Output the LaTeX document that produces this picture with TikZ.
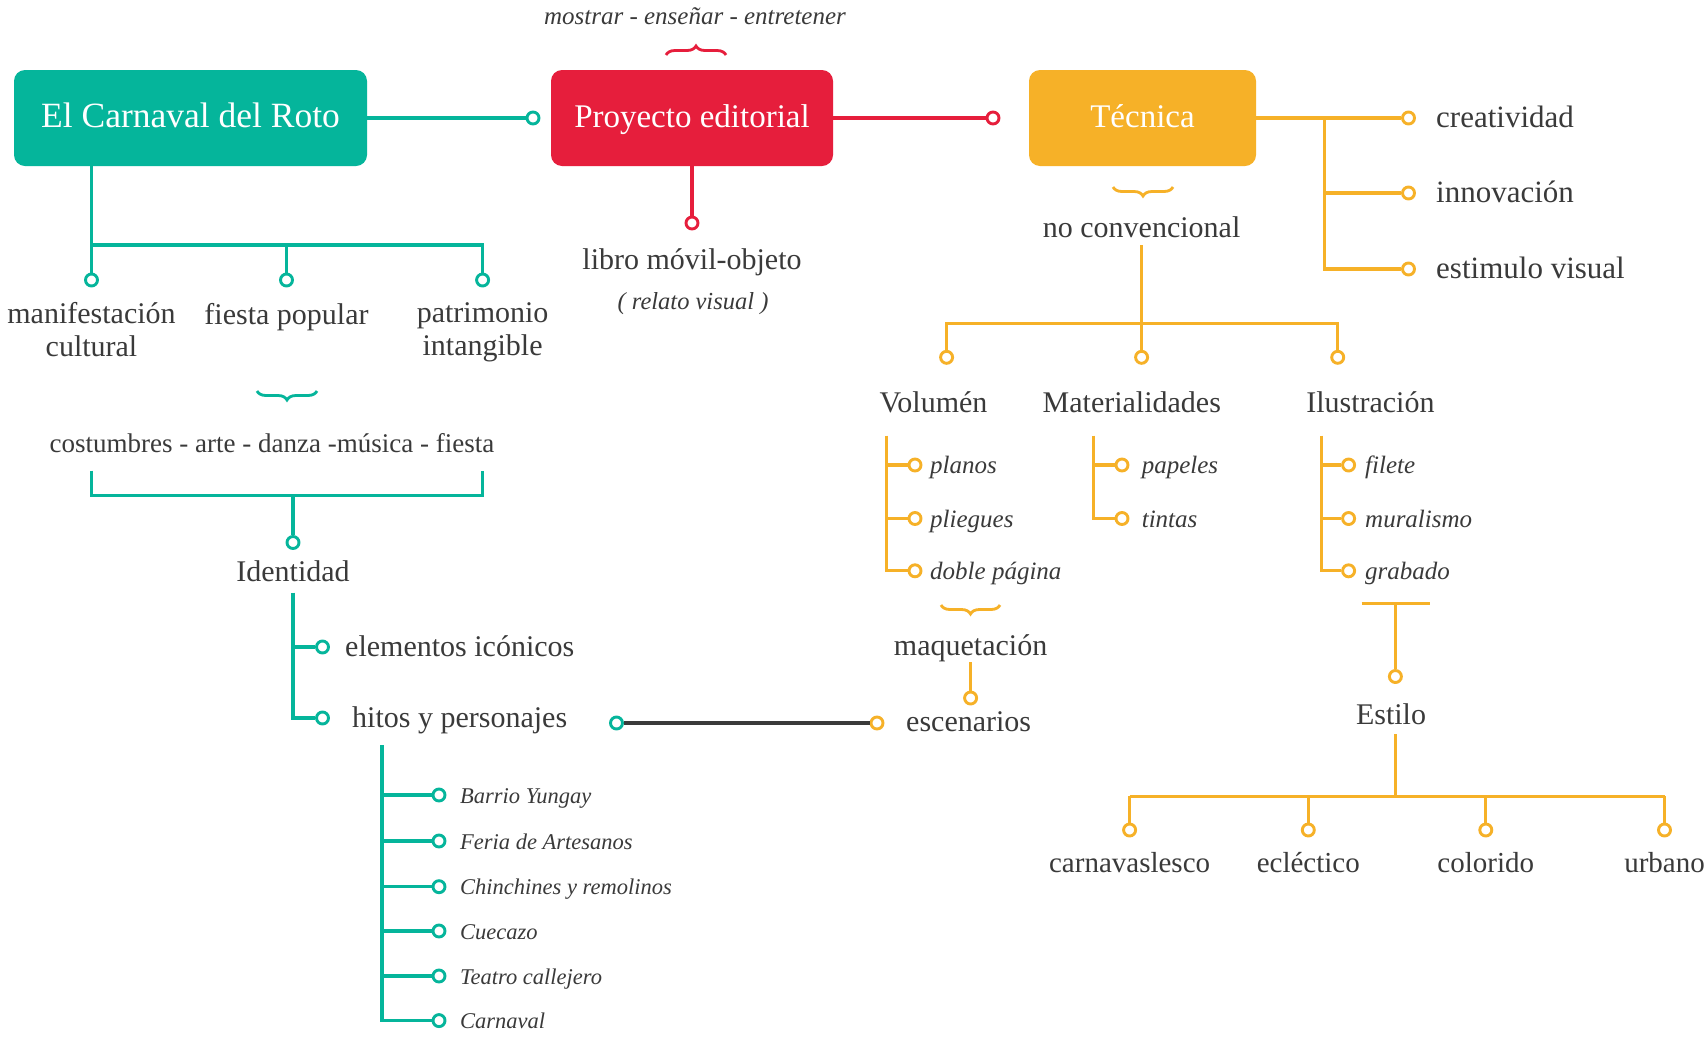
\documentclass[tikz,border=0pt]{standalone}
\usepackage{fontspec}
\setmainfont{Liberation Serif}
\usetikzlibrary{decorations.pathreplacing,calc}
\definecolor{cteal}{HTML}{05B59B}
\definecolor{cred}{HTML}{E61E3C}
\definecolor{cyel}{HTML}{F6B128}
\definecolor{cink}{HTML}{3A3A3A}
\begin{document}
\begin{tikzpicture}[x=1pt,y=-1pt,
  box/.style={rounded corners=11pt, minimum height=96pt, inner sep=0pt, text=white,
    font=\fontsize{33}{38}\selectfont, text height=22pt, text depth=2.6pt},
  lbl/.style={text=cink, inner sep=0pt, font=\fontsize{30}{34}\selectfont, text height=20.4pt, text depth=6.6pt, yshift=-3pt},
  mlbl/.style={text=cink, inner sep=0pt, font=\fontsize{30}{33}\selectfont, align=center, anchor=north},
  slbl/.style={text=cink, inner sep=0pt, font=\fontsize{27}{31}\selectfont, text height=18.4pt, text depth=6pt, yshift=-3pt},
  ilbl/.style={text=cink, inner sep=0pt, font=\fontsize{25}{30}\selectfont\itshape, text height=17pt, text depth=5.5pt, yshift=-3pt},
  tlbl/.style={text=cink, inner sep=0pt, font=\fontsize{22.5}{26}\selectfont\itshape, text height=15.3pt, text depth=5pt, yshift=-3pt},
  clbl/.style={text=cink, inner sep=0pt, font=\fontsize{24.5}{28}\selectfont\itshape, text height=16.7pt, text depth=5.4pt, yshift=-3pt},
  dot/.style={circle, fill=white, line width=2.9pt, minimum size=12pt, inner sep=0pt},
  tdot/.style={dot, draw=cteal},
  rdot/.style={dot, draw=cred},
  ydot/.style={dot, draw=cyel},
  tline/.style={draw=cteal, line width=3.2pt},
  rline/.style={draw=cred, line width=3.2pt},
  yline/.style={draw=cyel, line width=3.2pt},
  kline/.style={draw=cink, line width=3.4pt},
  brc/.style={decorate, decoration={brace, amplitude=9pt}, line width=2.8pt},
]
\useasboundingbox[fill=white] (0,0) rectangle (1708,1042);

% ---------- main boxes ----------
\node[box, fill=cteal, minimum width=353pt, font=\fontsize{35.5}{40}\selectfont] (carnaval) at (190.5,118) {El Carnaval del Roto};
\node[box, fill=cred, minimum width=282pt] (proy) at (692,118) {Proyecto editorial};
\node[box, fill=cyel, minimum width=227pt] (tec) at (1142.5,118) {Técnica};

% ---------- El Carnaval del Roto ----------
\node[tdot] (t0) at (533,118) {};
\draw[tline] (carnaval.east |- t0) -- (t0);

\node[tdot] (d1) at (91.5,280) {};
\node[tdot] (d2) at (286.5,280) {};
\node[tdot] (d3) at (482.6,280) {};
\coordinate (cbar) at (286.5,245);
\draw[tline] (carnaval.south -| d1) -- (d1);
\draw[tline] (cbar -| d1) -- (cbar -| d3) -- (d3);
\draw[tline] (cbar) -- (d2);

\node[mlbl] (manif) at (91.5,302) {manifestación\\cultural};
\node[lbl] (fiesta) at (286.5,315) {fiesta popular};
\node[mlbl] (patri) at (482.6,302) {patrimonio\\intangible};

\draw[brc, cteal] (317,391) -- (257,391);
\node[slbl] (cost) at (272,443) {costumbres - arte - danza -música - fiesta};

\coordinate (bl) at (91.5,470.6);
\coordinate (br) at (482.6,470.6);
\coordinate (bj) at (293,495.6);
\node[tdot] (idd) at (293,542.5) {};
\draw[tline] (bl) |- (bj) -| (br);
\draw[tline] (bj) -- (idd);

\node[lbl] (ident) at (293,572) {Identidad};
\coordinate (idv) at (293,592.6);
\node[tdot] (e1) at (322.5,647) {};
\node[tdot] (e2) at (322.5,718) {};
\draw[tline] (idv) |- (e2);
\draw[tline] (idv |- e1) -- (e1);
\node[lbl, anchor=west] (elem) at (345,647) {elementos icónicos};
\node[lbl, anchor=west] (hitos) at (352,718) {hitos y personajes};

% list of landmarks and characters
\coordinate (hv) at (382,745);
\foreach \n/\yy/\txt in {1/795/Barrio Yungay, 2/841/Feria de Artesanos,
    3/886.7/Chinchines y remolinos, 4/931/Cuecazo, 5/976/Teatro callejero, 6/1020.6/Carnaval} {
  \node[tdot] (h\n) at (439,\yy) {};
  \node[tlbl, anchor=west] (hl\n) at (460,\yy) {\txt};
  \draw[tline] (hv |- h\n) -- (h\n);
}
\draw[tline] (hv) |- (h6);

% link between the characters and the sets
\node[tdot] (hc) at (616.5,723) {};
\node[ydot] (ec) at (877,723) {};
\draw[kline] (hc) -- (ec);

% ---------- Proyecto editorial ----------
\node[clbl, font=\fontsize{25}{29}\selectfont\itshape] (fines) at (695,16) {mostrar - enseñar - entretener};
\draw[brc, cred] (666,55) -- (726,55);

\node[rdot] (r1) at (993,118) {};
\draw[rline] (proy.east |- r1) -- (r1);
\node[rdot] (r2) at (692,223) {};
\draw[rline] (proy.south) -- (r2);
\node[lbl] (libro) at (692,260) {libro móvil-objeto};
\node[clbl] (relato) at (693,301) {( relato visual )};

% ---------- Técnica ----------
\node[ydot] (c1) at (1408.5,118) {};
\node[ydot] (c2) at (1408.5,193) {};
\node[ydot] (c3) at (1408.5,269) {};
\coordinate (cv) at (1324.6,118);
\draw[yline] (tec.east |- c1) -- (c1);
\draw[yline] (cv) |- (c3);
\draw[yline] (cv |- c2) -- (c2);
\node[lbl, anchor=west, font=\fontsize{31}{35}\selectfont] (crea) at (1436,118) {creatividad};
\node[lbl, anchor=west, font=\fontsize{31}{35}\selectfont] (inno) at (1436,193) {innovación};
\node[lbl, anchor=west, font=\fontsize{31}{35}\selectfont] (esti) at (1436,269) {estimulo visual};

\draw[brc, cyel] (1173,187) -- (1113,187);
\node[lbl] (noconv) at (1141.6,227.7) {no convencional};

\coordinate (nv) at (1141.6,245);
\coordinate (nbar) at (1141.6,323.5);
\node[ydot] (m1) at (946.6,357.3) {};
\node[ydot] (m2) at (1141.6,357.3) {};
\node[ydot] (m3) at (1337.7,357.3) {};
\draw[yline] (nv) -- (m2);
\draw[yline] (m1) |- (nbar) -| (m3);

\node[lbl] (vol) at (933.5,403) {Volumén};
\node[lbl] (mat) at (1131.8,403) {Materialidades};
\node[lbl] (ilu) at (1370.4,403) {Ilustración};

% Volumen
\coordinate (vv) at (886.7,435.7);
\foreach \n/\yy/\txt in {1/465/planos, 2/518.5/pliegues, 3/570.8/doble página} {
  \node[ydot] (v\n) at (915,\yy) {};
  \node[ilbl, anchor=west] (vl\n) at (930,\yy) {\txt};
  \draw[yline] (vv |- v\n) -- (v\n);
}
\draw[yline] (vv) |- (v3);

% Materialidades
\coordinate (mv) at (1093.7,435.7);
\foreach \n/\yy/\txt in {1/465/papeles, 2/518.5/tintas} {
  \node[ydot] (p\n) at (1122,\yy) {};
  \node[ilbl, anchor=west] (pl\n) at (1141.6,\yy) {\txt};
  \draw[yline] (mv |- p\n) -- (p\n);
}
\draw[yline] (mv) |- (p2);

% Ilustracion
\coordinate (iv) at (1321.3,435.7);
\foreach \n/\yy/\txt in {1/465/filete, 2/518.5/muralismo, 3/570.8/grabado} {
  \node[ydot] (i\n) at (1348.6,\yy) {};
  \node[ilbl, anchor=west] (il\n) at (1365,\yy) {\txt};
  \draw[yline] (iv |- i\n) -- (i\n);
}
\draw[yline] (iv) |- (i3);

% maquetacion and escenarios
\draw[brc, cyel] (1000,605) -- (941,605);
\node[lbl] (maq) at (970.6,646) {maquetación};
\node[ydot] (q1) at (970.6,698) {};
\coordinate (qv) at (970.6,662);
\draw[yline] (qv) -- (q1);
\node[lbl, anchor=west] (esc) at (906,722) {escenarios};

% Estilo
\coordinate (sbar) at (1395.4,603.5);
\node[ydot] (s0) at (1395.4,676.5) {};
\draw[yline] (1361.7,603.5) -- (1430.3,603.5);
\draw[yline] (sbar) -- (s0);
\node[lbl] (estilo) at (1391,714.6) {Estilo};
\coordinate (sv) at (1395.4,734);
\coordinate (sj) at (1395.4,796.3);
\draw[yline] (sv) -- (sj);
\foreach \n/\xx/\txt in {1/1129.6/carnavaslesco, 2/1308.3/ecléctico, 3/1485.8/colorido, 4/1664.5/urbano} {
  \node[ydot] (k\n) at (\xx,830) {};
  \node[lbl, font=\fontsize{29}{33}\selectfont] (kl\n) at (\xx,862.7) {\txt};
  \draw[yline] (sj -| k\n) -- (k\n);
}
\draw[yline] (sj -| k1) -- (sj -| k4);
\end{tikzpicture}
\end{document}
